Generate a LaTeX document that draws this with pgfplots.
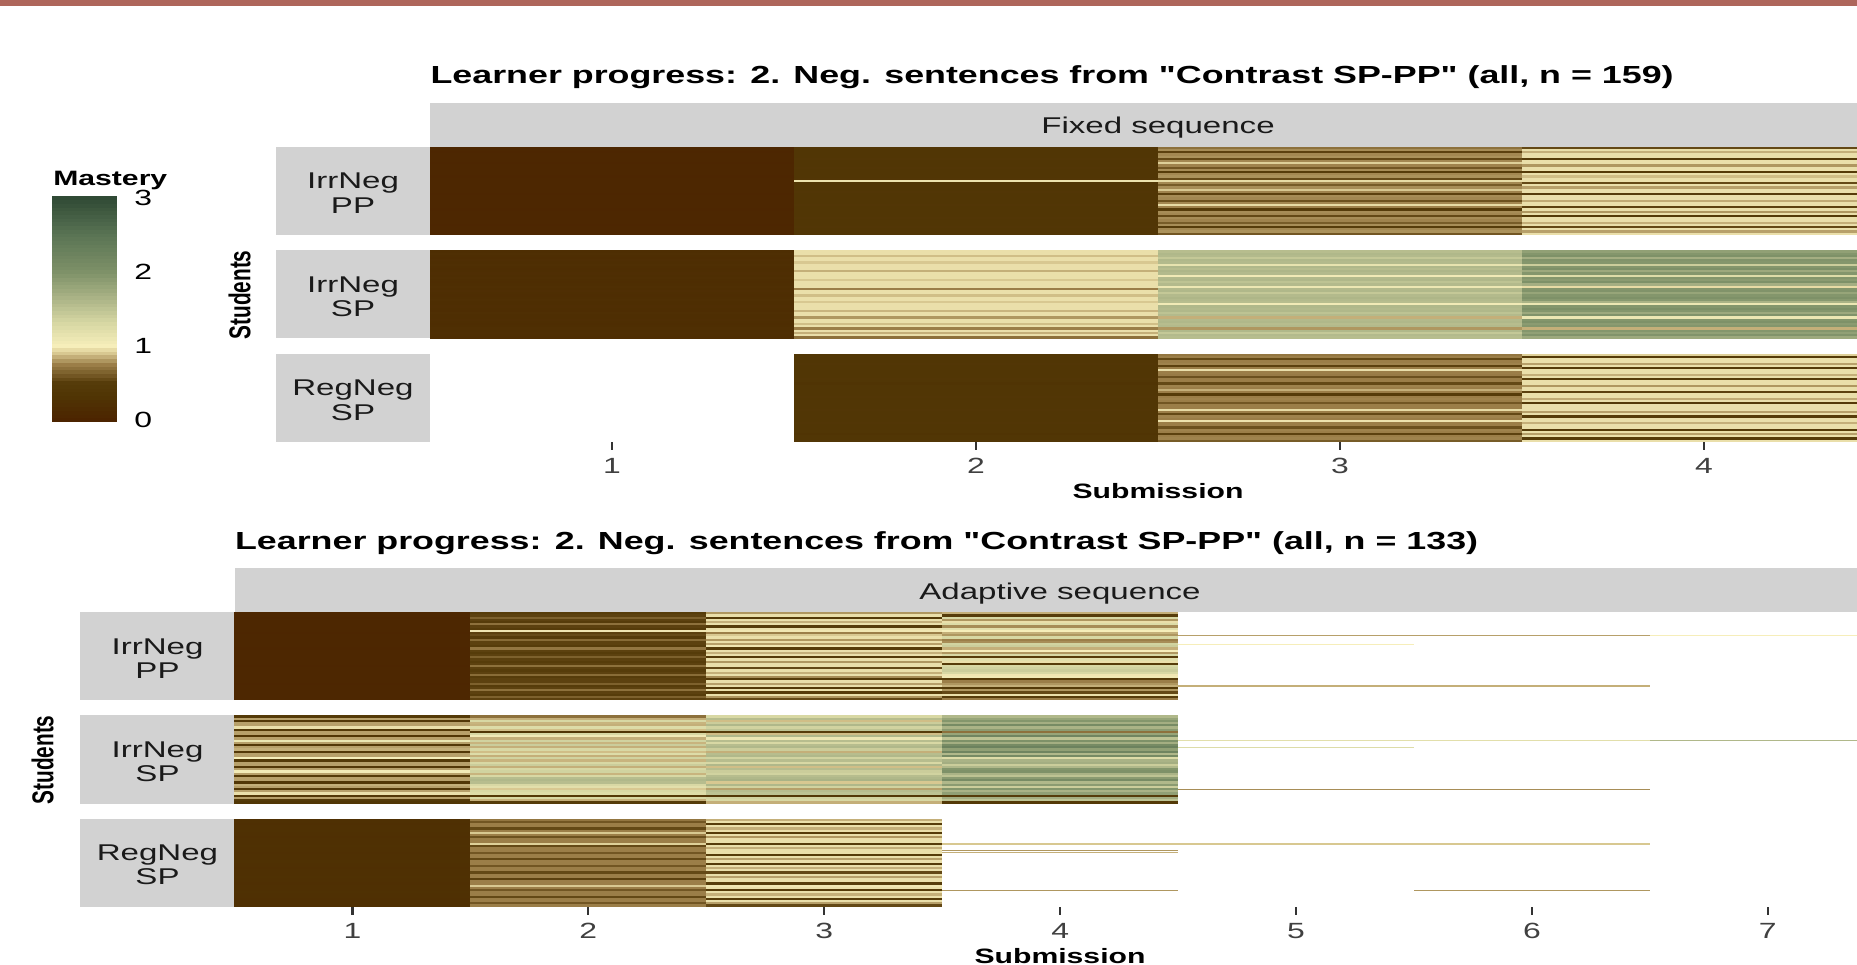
\documentclass[border=0pt]{standalone}
\usepackage{fontspec}
\setmainfont{Liberation Sans}
\usepackage{pgfplots}
\usepackage{pgfplotstable}
\pgfplotsset{compat=1.18}

\definecolor{stripgray}{RGB}{210,210,210}
\definecolor{txtgray}{RGB}{26,26,26}
\definecolor{tickgray}{RGB}{64,64,64}
\definecolor{topbar}{RGB}{174,102,91}

\pgfplotsset{colormap={mastery}{rgb255(0cm)=(76,36,0); rgb255(3cm)=(80,52,4); rgb255(5cm)=(86,60,10); rgb255(7.5cm)=(155,126,72); rgb255(9cm)=(216,200,145); rgb255(10cm)=(246,238,186); rgb255(13cm)=(216,216,164); rgb255(16cm)=(176,184,138); rgb255(20cm)=(126,145,104); rgb255(25cm)=(90,116,84); rgb255(30cm)=(48,74,53)}}

\pgfdeclareplotmark{tc}{\pgfpathrectangle{\pgfqpoint{-91pt}{-0.6pt}}{\pgfqpoint{182pt}{1.2pt}}\pgfusepathqfill}
\pgfdeclareplotmark{bc}{\pgfpathrectangle{\pgfqpoint{-58.98pt}{-0.6pt}}{\pgfqpoint{117.96pt}{1.2pt}}\pgfusepathqfill}
\pgfdeclareplotmark{sc}{\pgfpathrectangle{\pgfqpoint{-58.98pt}{-0.32pt}}{\pgfqpoint{117.96pt}{0.64pt}}\pgfusepathqfill}
\pgfdeclareplotmark{lg}{\pgfpathrectangle{\pgfqpoint{-16.25pt}{-0.98pt}}{\pgfqpoint{32.5pt}{1.96pt}}\pgfusepathqfill}

\newcommand{\titlefont}{\fontsize{12.35}{14}\selectfont\bfseries}
\newcommand{\stripfont}{\fontsize{11.4}{13}\selectfont}
\newcommand{\labfont}{\fontsize{10.4}{12}\selectfont\bfseries}
\newcommand{\ticfont}{\fontsize{11}{13}\selectfont}
\newcommand{\legfont}{\fontsize{11}{12}\selectfont}

\pgfplotsset{
  cells/.style={scatter, only marks, point meta=explicit, mark=#1},
  panel/.style={scale only axis, anchor=north west, height=44pt,
    ymin=0.5, ymax=40.5, y dir=reverse, colormap name=mastery,
    point meta min=0, point meta max=3},
  tickpanel/.style={hide y axis, axis x line*=bottom, axis line style={draw=none},
    xtick align=outside, major tick length=4pt,
    tick style={draw=black!80, line width=1.1pt},
    xticklabel style={font=\ticfont, text=tickgray, xscale=1.45, anchor=base, inner sep=0pt, yshift=-11.95pt}},
}

% Fixed sequence, IrrNeg PP: r, submission 1..4
\pgfplotstableread{
r a b c d
1 0.05 0.36 0.70 0.55
2 0.05 0.35 0.78 0.96
3 0.04 0.35 0.52 0.85
4 0.05 0.34 0.77 0.96
5 0.06 0.35 0.79 0.96
6 0.05 0.36 0.55 0.50
7 0.05 0.35 0.77 0.96
8 0.04 0.35 0.92 0.96
9 0.05 0.35 0.76 0.80
10 0.05 0.36 0.60 0.96
11 0.06 0.35 0.78 0.96
12 0.05 0.34 0.50 0.48
13 0.05 0.35 0.77 0.96
14 0.04 0.35 0.79 0.88
15 0.05 0.36 0.56 0.96
16 0.05 0.97 0.95 0.96
17 0.05 0.35 0.77 0.55
18 0.06 0.35 0.62 0.96
19 0.05 0.34 0.78 0.82
20 0.05 0.35 0.90 0.96
21 0.05 0.36 0.76 0.96
22 0.04 0.35 0.52 0.50
23 0.05 0.35 0.78 0.96
24 0.05 0.35 0.77 0.96
25 0.06 0.34 0.58 0.84
26 0.05 0.35 0.77 0.96
27 0.05 0.36 0.95 0.96
28 0.05 0.35 0.76 0.52
29 0.04 0.35 0.50 0.96
30 0.05 0.35 0.78 0.80
31 0.05 0.34 0.77 0.96
32 0.06 0.35 0.55 0.45
33 0.05 0.36 0.78 0.96
34 0.05 0.35 0.76 0.96
35 0.05 0.35 0.62 0.85
36 0.04 0.35 0.78 0.96
37 0.05 0.36 0.50 0.55
38 0.05 0.35 0.77 0.96
39 0.06 0.35 0.79 0.82
40 0.05 0.35 0.60 0.96
}\tpA

% Fixed sequence, IrrNeg SP
\pgfplotstableread{
r a b c d
1 0.18 0.96 1.55 1.85
2 0.20 0.96 1.60 1.95
3 0.18 0.88 1.58 2.00
4 0.17 0.96 1.45 1.70
5 0.19 0.96 1.60 1.98
6 0.18 0.90 1.58 1.95
7 0.20 0.96 1.15 1.40
8 0.18 0.96 1.60 1.95
9 0.16 0.96 1.55 2.02
10 0.18 0.85 1.62 1.75
11 0.19 0.96 1.58 1.95
12 0.18 0.96 1.05 1.25
13 0.20 0.96 1.58 1.95
14 0.18 0.90 1.60 1.90
15 0.17 0.96 1.50 2.00
16 0.18 0.96 1.58 1.70
17 0.20 0.96 1.10 0.95
18 0.18 0.75 1.58 1.95
19 0.19 0.96 1.60 1.98
20 0.18 0.96 1.45 1.80
21 0.16 0.88 1.58 1.95
22 0.18 0.96 1.62 2.00
23 0.20 0.96 1.58 1.92
24 0.18 0.90 1.55 1.65
25 0.18 0.96 1.05 1.10
26 0.19 0.96 1.60 1.95
27 0.18 0.96 1.58 2.02
28 0.17 0.86 1.60 1.95
29 0.20 0.96 1.50 1.75
30 0.18 0.96 1.58 1.98
31 0.18 0.80 0.85 1.10
32 0.19 0.96 1.58 1.95
33 0.18 0.96 1.60 2.00
34 0.16 0.88 1.55 1.90
35 0.18 0.96 1.58 1.95
36 0.20 0.75 0.80 0.85
37 0.18 0.96 1.60 1.95
38 0.19 0.85 1.45 1.85
39 0.18 0.96 1.58 1.98
40 0.17 0.70 1.55 1.75
}\tpB

% Fixed sequence, RegNeg SP (no submission 1)
\pgfplotstableread{
r b c d
1 0.35 0.72 0.92
2 0.35 0.75 0.45
3 0.34 0.55 0.96
4 0.35 0.75 0.96
5 0.36 0.76 0.82
6 0.35 0.52 0.96
7 0.35 0.75 0.48
8 0.35 0.96 0.96
9 0.34 0.75 0.96
10 0.35 0.74 0.85
11 0.35 0.58 0.96
12 0.36 0.75 0.50
13 0.35 0.75 0.96
14 0.30 0.55 0.96
15 0.35 0.76 0.80
16 0.35 0.75 0.96
17 0.34 0.85 0.96
18 0.35 0.75 0.52
19 0.35 0.50 0.96
20 0.36 0.75 0.96
21 0.35 0.76 0.84
22 0.35 0.75 0.96
23 0.34 0.60 0.45
24 0.35 0.75 0.96
25 0.35 0.75 0.96
26 0.36 0.95 0.96
27 0.35 0.75 0.82
28 0.35 0.55 0.96
29 0.34 0.76 0.50
30 0.35 0.75 0.96
31 0.35 0.97 0.96
32 0.36 0.75 0.85
33 0.35 0.75 0.96
34 0.35 0.58 0.96
35 0.34 0.76 0.48
36 0.35 0.75 0.96
37 0.30 0.52 0.82
38 0.35 0.75 0.96
39 0.35 0.76 0.50
40 0.36 0.62 0.96
}\tpC

% Adaptive sequence, IrrNeg PP
\pgfplotstableread{
r a b c d
1 0.05 0.50 0.80 0.85
2 0.05 0.52 0.96 0.50
3 0.04 0.64 0.45 1.30
4 0.05 0.52 0.96 0.80
5 0.06 0.50 0.85 0.96
6 0.05 0.70 0.96 1.25
7 0.05 0.52 0.50 0.78
8 0.05 0.50 0.96 1.20
9 0.05 0.98 0.98 1.00
10 0.04 0.52 0.75 0.85
11 0.05 0.56 0.90 0.80
12 0.05 0.50 0.96 1.30
13 0.06 0.68 0.80 0.75
14 0.05 0.52 0.96 0.78
15 0.05 0.52 0.82 1.35
16 0.05 0.50 0.98 1.40
17 0.04 0.72 0.50 0.85
18 0.05 0.52 0.96 1.00
19 0.05 0.50 0.85 0.80
20 0.05 0.52 0.96 1.30
21 0.06 0.64 0.45 0.50
22 0.05 0.52 0.96 1.20
23 0.05 0.50 0.80 0.96
24 0.05 0.52 0.96 0.50
25 0.04 0.70 0.96 1.30
26 0.05 0.52 0.55 1.35
27 0.05 0.50 0.96 1.40
28 0.05 0.52 0.85 1.30
29 0.06 0.68 0.96 0.98
30 0.05 0.50 0.78 1.05
31 0.05 0.52 0.50 0.50
32 0.05 0.52 0.96 0.75
33 0.04 0.64 0.82 0.80
34 0.05 0.50 0.96 0.85
35 0.05 0.52 0.45 0.45
36 0.05 0.70 0.96 0.80
37 0.06 0.52 0.50 0.55
38 0.05 0.50 0.96 0.96
39 0.05 0.64 0.80 0.50
40 0.05 0.52 0.55 0.75
}\bpA

% Adaptive sequence, IrrNeg SP
\pgfplotstableread{
r a b c d
1 0.45 0.70 1.30 1.60
2 0.82 0.85 1.55 1.80
3 0.40 1.30 0.88 1.95
4 0.82 0.86 1.40 1.70
5 0.82 0.85 1.60 2.10
6 0.96 1.25 1.35 1.65
7 0.45 0.88 1.50 1.90
8 0.82 0.35 0.50 0.70
9 0.82 1.30 0.88 1.80
10 0.35 1.05 1.60 2.20
11 0.82 0.85 1.10 1.50
12 1.10 1.35 1.55 2.00
13 0.82 0.86 1.30 1.70
14 0.42 1.40 1.55 2.10
15 0.82 0.85 1.60 2.25
16 0.85 1.30 1.40 1.85
17 0.40 0.88 0.85 2.20
18 0.82 1.25 1.55 1.60
19 0.82 0.85 1.60 2.10
20 1.00 1.35 1.35 1.25
21 0.45 0.86 1.55 1.65
22 0.82 1.30 1.30 1.70
23 0.82 1.40 1.60 1.40
24 0.40 0.85 0.88 1.60
25 0.82 1.30 1.55 1.95
26 1.05 1.35 1.40 2.00
27 0.82 0.86 1.35 1.65
28 0.45 1.30 1.55 1.50
29 0.82 1.55 1.60 1.90
30 0.82 1.60 1.65 2.10
31 0.38 1.55 0.90 1.60
32 0.85 1.30 1.60 1.90
33 0.82 1.20 1.35 1.40
34 0.42 0.90 0.82 1.95
35 0.82 1.30 1.55 1.65
36 0.96 1.25 1.50 1.85
37 0.40 0.40 0.40 0.50
38 0.82 1.30 1.35 1.70
39 0.45 0.85 1.30 1.50
40 0.35 0.50 0.85 0.45
}\bpB

% Adaptive sequence, RegNeg SP (submissions 1..3)
\pgfplotstableread{
r a b c
1 0.22 0.72 0.85
2 0.22 0.60 0.96
3 0.20 0.75 0.50
4 0.22 0.75 0.96
5 0.22 0.55 0.85
6 0.24 0.75 0.96
7 0.22 0.90 0.48
8 0.22 0.75 0.96
9 0.20 0.58 0.80
10 0.22 0.75 0.96
11 0.22 0.75 0.96
12 0.22 0.92 0.50
13 0.24 0.55 0.96
14 0.22 0.75 0.85
15 0.22 0.75 0.96
16 0.20 0.60 0.96
17 0.22 0.75 0.50
18 0.22 0.75 0.96
19 0.22 0.55 0.82
20 0.24 0.75 0.96
21 0.22 0.75 0.45
22 0.22 0.60 0.96
23 0.20 0.75 0.85
24 0.22 0.75 0.96
25 0.22 0.55 0.55
26 0.22 0.75 0.96
27 0.24 0.75 0.82
28 0.22 0.52 0.96
29 0.22 0.75 0.96
30 0.20 0.75 0.50
31 0.22 0.90 0.98
32 0.22 0.75 0.96
33 0.22 0.60 0.45
34 0.24 0.75 0.96
35 0.22 0.75 0.85
36 0.22 0.55 0.96
37 0.20 0.75 0.50
38 0.22 0.75 0.96
39 0.22 0.60 0.82
40 0.22 0.75 0.55
}\bpC

\begin{document}
\begin{tikzpicture}
\useasboundingbox (0,0) rectangle (928.5pt,482pt);
\clip (0,0) rectangle (928.5pt,482pt);
\fill[topbar] (0,479pt) rectangle (928.5pt,482pt);

% ---------- legend (colour bar) ----------
\node[anchor=base west, inner sep=0pt, xscale=1.45, font=\labfont] at (26.35pt,389pt) {Mastery};
\begin{axis}[at={(26pt,382.85pt)}, anchor=north west, scale only axis, width=32.5pt, height=110.85pt,
  xmin=0, xmax=1, ymin=0, ymax=3, colormap name=mastery, point meta min=0, point meta max=3,
  axis on top, axis line style={draw=none}, xtick=\empty,
  ytick={0,1,2,3}, yticklabels={0,1,2,3}, ytick pos=both, yticklabel pos=right,
  ytick align=inside, major tick length=5.8pt, tick style={draw=white, line width=0.8pt},
  yticklabel style={font=\legfont, text=black, xscale=1.45, anchor=west, inner sep=0pt, xshift=5.8pt}]
\addplot[scatter, only marks, point meta=y, mark=lg] coordinates {
(0.5,0.00) (0.5,0.05) (0.5,0.10) (0.5,0.15) (0.5,0.20) (0.5,0.25) (0.5,0.30) (0.5,0.35) (0.5,0.40) (0.5,0.45)
(0.5,0.50) (0.5,0.55) (0.5,0.60) (0.5,0.65) (0.5,0.70) (0.5,0.75) (0.5,0.80) (0.5,0.85) (0.5,0.90) (0.5,0.95)
(0.5,1.00) (0.5,1.05) (0.5,1.10) (0.5,1.15) (0.5,1.20) (0.5,1.25) (0.5,1.30) (0.5,1.35) (0.5,1.40) (0.5,1.45)
(0.5,1.50) (0.5,1.55) (0.5,1.60) (0.5,1.65) (0.5,1.70) (0.5,1.75) (0.5,1.80) (0.5,1.85) (0.5,1.90) (0.5,1.95)
(0.5,2.00) (0.5,2.05) (0.5,2.10) (0.5,2.15) (0.5,2.20) (0.5,2.25) (0.5,2.30) (0.5,2.35) (0.5,2.40) (0.5,2.45)
(0.5,2.50) (0.5,2.55) (0.5,2.60) (0.5,2.65) (0.5,2.70) (0.5,2.75) (0.5,2.80) (0.5,2.85) (0.5,2.90) (0.5,2.95)
(0.5,3.00)};
\end{axis}

% ---------- top plot: Fixed sequence ----------
\node[anchor=base west, inner sep=0pt, xscale=1.45, font=\titlefont] at (215pt,440pt)
  {Learner progress: 2. Neg. sentences from \textquotedbl Contrast SP-PP\textquotedbl\ (all, n = 159)};
\fill[stripgray] (215pt,430.5pt) rectangle (943pt,408.5pt);
\node[anchor=base, inner sep=0pt, xscale=1.45, font=\stripfont, text=txtgray] at (579pt,415.3pt) {Fixed sequence};
\fill[stripgray] (138pt,408.5pt) rectangle (215pt,364.5pt);
\fill[stripgray] (138pt,356.75pt) rectangle (215pt,312.75pt);
\fill[stripgray] (138pt,305pt) rectangle (215pt,261pt);
\begin{scope}[every node/.style={anchor=base, inner sep=0pt, xscale=1.45, font=\stripfont, text=txtgray}]
\node at (176.5pt,387.6pt) {IrrNeg}; \node at (176.5pt,375.4pt) {PP};
\node at (176.5pt,335.85pt) {IrrNeg}; \node at (176.5pt,323.65pt) {SP};
\node at (176.5pt,284.1pt) {RegNeg}; \node at (176.5pt,271.9pt) {SP};
\end{scope}
\node[inner sep=0pt, font=\labfont] at (119.75pt,334.5pt) {\scalebox{1.45}[1]{\rotatebox{90}{Students}}};
\node[anchor=base, inner sep=0pt, xscale=1.45, font=\labfont] at (579pt,232.5pt) {Submission};

\begin{axis}[panel, at={(215pt,408.5pt)}, width=728pt, xmin=0.5, xmax=4.5, hide axis]
\addplot[cells=tc] table[x expr=1, y=r, meta=a] {\tpA};
\addplot[cells=tc] table[x expr=2, y=r, meta=b] {\tpA};
\addplot[cells=tc] table[x expr=3, y=r, meta=c] {\tpA};
\addplot[cells=tc] table[x expr=4, y=r, meta=d] {\tpA};
\end{axis}
\begin{axis}[panel, at={(215pt,356.75pt)}, width=728pt, xmin=0.5, xmax=4.5, hide axis]
\addplot[cells=tc] table[x expr=1, y=r, meta=a] {\tpB};
\addplot[cells=tc] table[x expr=2, y=r, meta=b] {\tpB};
\addplot[cells=tc] table[x expr=3, y=r, meta=c] {\tpB};
\addplot[cells=tc] table[x expr=4, y=r, meta=d] {\tpB};
\end{axis}
\begin{axis}[panel, tickpanel, at={(215pt,305pt)}, width=728pt, xmin=0.5, xmax=4.5,
  xtick={1,2,3,4}, xticklabels={1,2,3,4}]
\addplot[cells=tc] table[x expr=2, y=r, meta=b] {\tpC};
\addplot[cells=tc] table[x expr=3, y=r, meta=c] {\tpC};
\addplot[cells=tc] table[x expr=4, y=r, meta=d] {\tpC};
\end{axis}

% ---------- bottom plot: Adaptive sequence ----------
\node[anchor=base west, inner sep=0pt, xscale=1.45, font=\titlefont] at (117.25pt,207.25pt)
  {Learner progress: 2. Neg. sentences from \textquotedbl Contrast SP-PP\textquotedbl\ (all, n = 133)};
\fill[stripgray] (117.25pt,197.75pt) rectangle (943pt,175.85pt);
\node[anchor=base, inner sep=0pt, xscale=1.45, font=\stripfont, text=txtgray] at (530pt,182.4pt) {Adaptive sequence};
\fill[stripgray] (40pt,175.85pt) rectangle (117.25pt,131.85pt);
\fill[stripgray] (40pt,124.25pt) rectangle (117.25pt,80.25pt);
\fill[stripgray] (40pt,72.65pt) rectangle (117.25pt,28.65pt);
\begin{scope}[every node/.style={anchor=base, inner sep=0pt, xscale=1.45, font=\stripfont, text=txtgray}]
\node at (78.75pt,154.95pt) {IrrNeg}; \node at (78.75pt,142.75pt) {PP};
\node at (78.75pt,103.35pt) {IrrNeg}; \node at (78.75pt,91.15pt) {SP};
\node at (78.75pt,51.75pt) {RegNeg}; \node at (78.75pt,39.55pt) {SP};
\end{scope}
\node[inner sep=0pt, font=\labfont] at (21.25pt,102pt) {\scalebox{1.45}[1]{\rotatebox{90}{Students}}};
\node[anchor=base, inner sep=0pt, xscale=1.45, font=\labfont] at (530pt,0.4pt) {Submission};

\begin{axis}[panel, at={(117.25pt,175.85pt)}, width=825.65pt, xmin=0.5, xmax=7.5, hide axis]
\addplot[cells=bc] table[x expr=1, y=r, meta=a] {\bpA};
\addplot[cells=bc] table[x expr=2, y=r, meta=b] {\bpA};
\addplot[cells=bc] table[x expr=3, y=r, meta=c] {\bpA};
\addplot[cells=bc] table[x expr=4, y=r, meta=d] {\bpA};
\addplot[cells=sc] coordinates {(5,11) [0.82] (6,11) [0.82] (7,11) [1.0] (5,15) [1.0] (5,34) [0.85] (6,34) [0.85]};
\end{axis}
\begin{axis}[panel, at={(117.25pt,124.25pt)}, width=825.65pt, xmin=0.5, xmax=7.5, hide axis]
\addplot[cells=bc] table[x expr=1, y=r, meta=a] {\bpB};
\addplot[cells=bc] table[x expr=2, y=r, meta=b] {\bpB};
\addplot[cells=bc] table[x expr=3, y=r, meta=c] {\bpB};
\addplot[cells=bc] table[x expr=4, y=r, meta=d] {\bpB};
\addplot[cells=sc] coordinates {(5,12) [1.2] (6,12) [1.2] (7,12) [1.6] (5,15) [1.25] (5,34) [0.78] (6,34) [0.78]};
\end{axis}
\begin{axis}[panel, tickpanel, at={(117.25pt,72.65pt)}, width=825.65pt, xmin=0.5, xmax=7.5,
  xtick={1,2,3,4,5,6,7}, xticklabels={1,2,3,4,5,6,7}]
\addplot[cells=bc] table[x expr=1, y=r, meta=a] {\bpC};
\addplot[cells=bc] table[x expr=2, y=r, meta=b] {\bpC};
\addplot[cells=bc] table[x expr=3, y=r, meta=c] {\bpC};
\addplot[cells=sc] coordinates {(4,12) [0.9] (5,12) [0.9] (6,12) [0.9] (4,15) [0.8] (4,16) [0.85] (4,33) [0.8] (6,33) [0.8]};
\end{axis}
\end{tikzpicture}
\end{document}
